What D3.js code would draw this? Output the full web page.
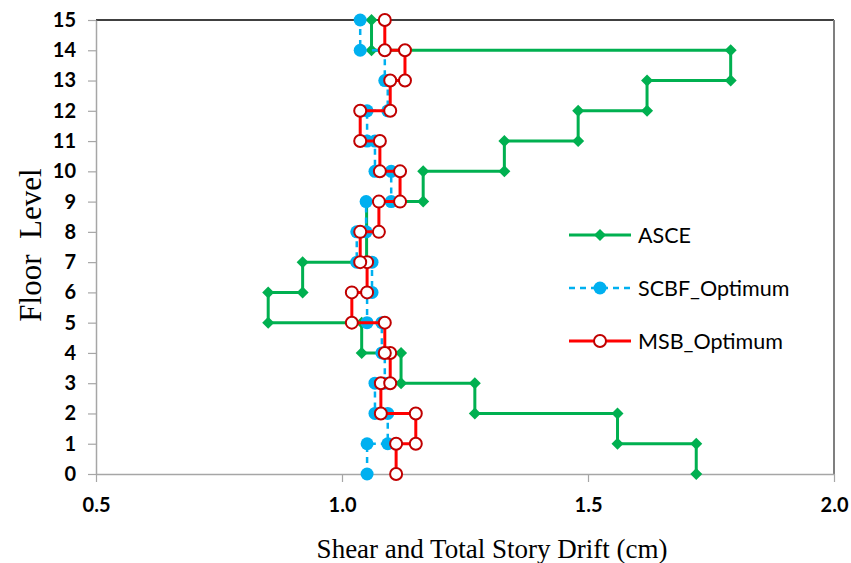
<!DOCTYPE html>
<html>
<head>
<meta charset="utf-8">
<script src="https://cdn.jsdelivr.net/npm/d3@7"></script>
<style>
  body { margin: 0; background: #fff; }
  svg { display: block; }
</style>
</head>
<body>
<svg id="chart" width="851" height="563"></svg>
<script>
// story drift per storey, from floor 0-1 up to 14-15
const floorTicks = d3.range(0, 16);
const xTicks = [0.5, 1.0, 1.5, 2.0];
const asce = [1.72, 1.56, 1.27, 1.12, 1.04, 0.85, 0.92, 1.05, 1.05, 1.165, 1.33, 1.48, 1.62, 1.79, 1.06];
const scbf = [1.051, 1.093, 1.067, 1.087, 1.081, 1.051, 1.061, 1.030, 1.049, 1.100, 1.067, 1.051, 1.093, 1.087, 1.037];
const msb = [1.110, 1.150, 1.079, 1.098, 1.087, 1.020, 1.051, 1.037, 1.075, 1.118, 1.077, 1.037, 1.098, 1.128, 1.087];
const seriesNames = ["ASCE", "SCBF_Optimum", "MSB_Optimum"];

const mLeft = 96, mTop = 20, plotW = 738, plotH = 454;

const svg = d3.select("#chart");
const x = d3.scaleLinear().domain([0.5, 2.0]).range([mLeft, mLeft + plotW]);
const y = d3.scaleLinear().domain([0, 15]).range([mTop + plotH, mTop]);

function stepPoints(vals) {
    let pts = [];
    vals.forEach((v, i) => { pts.push([v, i]); pts.push([v, i + 1]); });
    return pts;
}

// frame: black top, grey right
svg.append("line").attr("x1", mLeft).attr("x2", mLeft + plotW).attr("y1", mTop).attr("y2", mTop)
    .attr("stroke", "#000").attr("stroke-width", 1.5);
svg.append("line").attr("x1", mLeft + plotW).attr("x2", mLeft + plotW).attr("y1", mTop).attr("y2", mTop + plotH)
    .attr("stroke", "#7f7f7f").attr("stroke-width", 2);

const xAxis = svg.append("g")
    .attr("transform", "translate(0," + (mTop + plotH) + ")")
    .call(d3.axisBottom(x).tickValues(xTicks).tickFormat(d3.format(".1f")).tickSize(8).tickSizeOuter(0));
const yAxis = svg.append("g")
    .attr("transform", "translate(" + mLeft + ",0)")
    .call(d3.axisLeft(y).tickValues(floorTicks).tickSize(8).tickSizeOuter(0));

[xAxis, yAxis].forEach(g => {
    g.select(".domain").attr("stroke", "#a6a6a6").attr("stroke-width", 1.5);
    g.selectAll(".tick line").attr("stroke", "#a6a6a6").attr("stroke-width", 1.2);
    g.selectAll(".tick text")
        .attr("font-family", "Lato, sans-serif")
        .attr("font-weight", "bold")
        .attr("font-size", "20px")
        .attr("fill", "#000");
});
xAxis.selectAll(".tick text").attr("dy", "1.35em");
yAxis.selectAll(".tick text").attr("x", -20);

const line = d3.line().x(d => x(d[0])).y(d => y(d[1]));

// ASCE
svg.append("path").datum(stepPoints(asce)).attr("d", line)
    .attr("fill", "none").attr("stroke", "#00b050").attr("stroke-width", 3);
svg.selectAll(".asce").data(stepPoints(asce)).enter().append("path")
    .attr("class", "asce")
    .attr("d", d3.symbol(d3.symbolSquare, 72)())
    .attr("transform", d => "translate(" + x(d[0]) + "," + y(d[1]) + ") rotate(45)")
    .attr("fill", "#00b050");

// SCBF
svg.append("path").datum(stepPoints(scbf)).attr("d", line)
    .attr("fill", "none").attr("stroke", "#00b0f0").attr("stroke-width", 2.5)
    .attr("stroke-dasharray", "6,5");
svg.selectAll(".scbf").data(stepPoints(scbf)).enter().append("circle")
    .attr("class", "scbf")
    .attr("cx", d => x(d[0])).attr("cy", d => y(d[1])).attr("r", 6.5)
    .attr("fill", "#00b0f0");

// MSB
svg.append("path").datum(stepPoints(msb)).attr("d", line)
    .attr("fill", "none").attr("stroke", "#ff0000").attr("stroke-width", 3);
svg.selectAll(".msb").data(stepPoints(msb)).enter().append("circle")
    .attr("class", "msb")
    .attr("cx", d => x(d[0])).attr("cy", d => y(d[1])).attr("r", 6)
    .attr("fill", "#fff").attr("stroke", "#c00000").attr("stroke-width", 2);

// legend
const legend = svg.append("g").attr("transform", "translate(569,0)");
const legendY = [235, 288, 341];
seriesNames.forEach((name, i) => {
    const g = legend.append("g").attr("transform", "translate(0," + legendY[i] + ")");
    const ln = g.append("line").attr("x1", 0).attr("x2", 62).attr("y1", 0).attr("y2", 0);
    if (i == 0) {
        ln.attr("stroke", "#00b050").attr("stroke-width", 3);
        g.append("path").attr("d", d3.symbol(d3.symbolSquare, 72)())
            .attr("transform", "translate(31,0) rotate(45)").attr("fill", "#00b050");
    } else if (i == 1) {
        ln.attr("stroke", "#00b0f0").attr("stroke-width", 2.5).attr("stroke-dasharray", "6,5");
        g.append("circle").attr("cx", 31).attr("r", 6.5).attr("fill", "#00b0f0");
    } else {
        ln.attr("stroke", "#ff0000").attr("stroke-width", 3);
        g.append("circle").attr("cx", 31).attr("r", 6).attr("fill", "#fff")
            .attr("stroke", "#c00000").attr("stroke-width", 2);
    }
    g.append("text").text(name)
        .attr("x", 69).attr("y", 8)
        .attr("font-family", "Lato, sans-serif")
        .attr("font-size", "21.5px")
        .attr("fill", "#000");
});

// axis titles
svg.append("text").text("Shear and Total Story Drift (cm)")
    .attr("x", 492).attr("y", 558)
    .attr("text-anchor", "middle")
    .attr("font-family", "Liberation Serif, serif")
    .attr("font-size", "27px")
    .attr("fill", "#000");
svg.append("text").text("Floor\u00a0 Level")
    .attr("transform", "translate(41,245) rotate(-90)")
    .attr("text-anchor", "middle")
    .attr("font-family", "Liberation Serif, serif")
    .attr("font-size", "31px")
    .attr("fill", "#000");
</script>
</body>
</html>
